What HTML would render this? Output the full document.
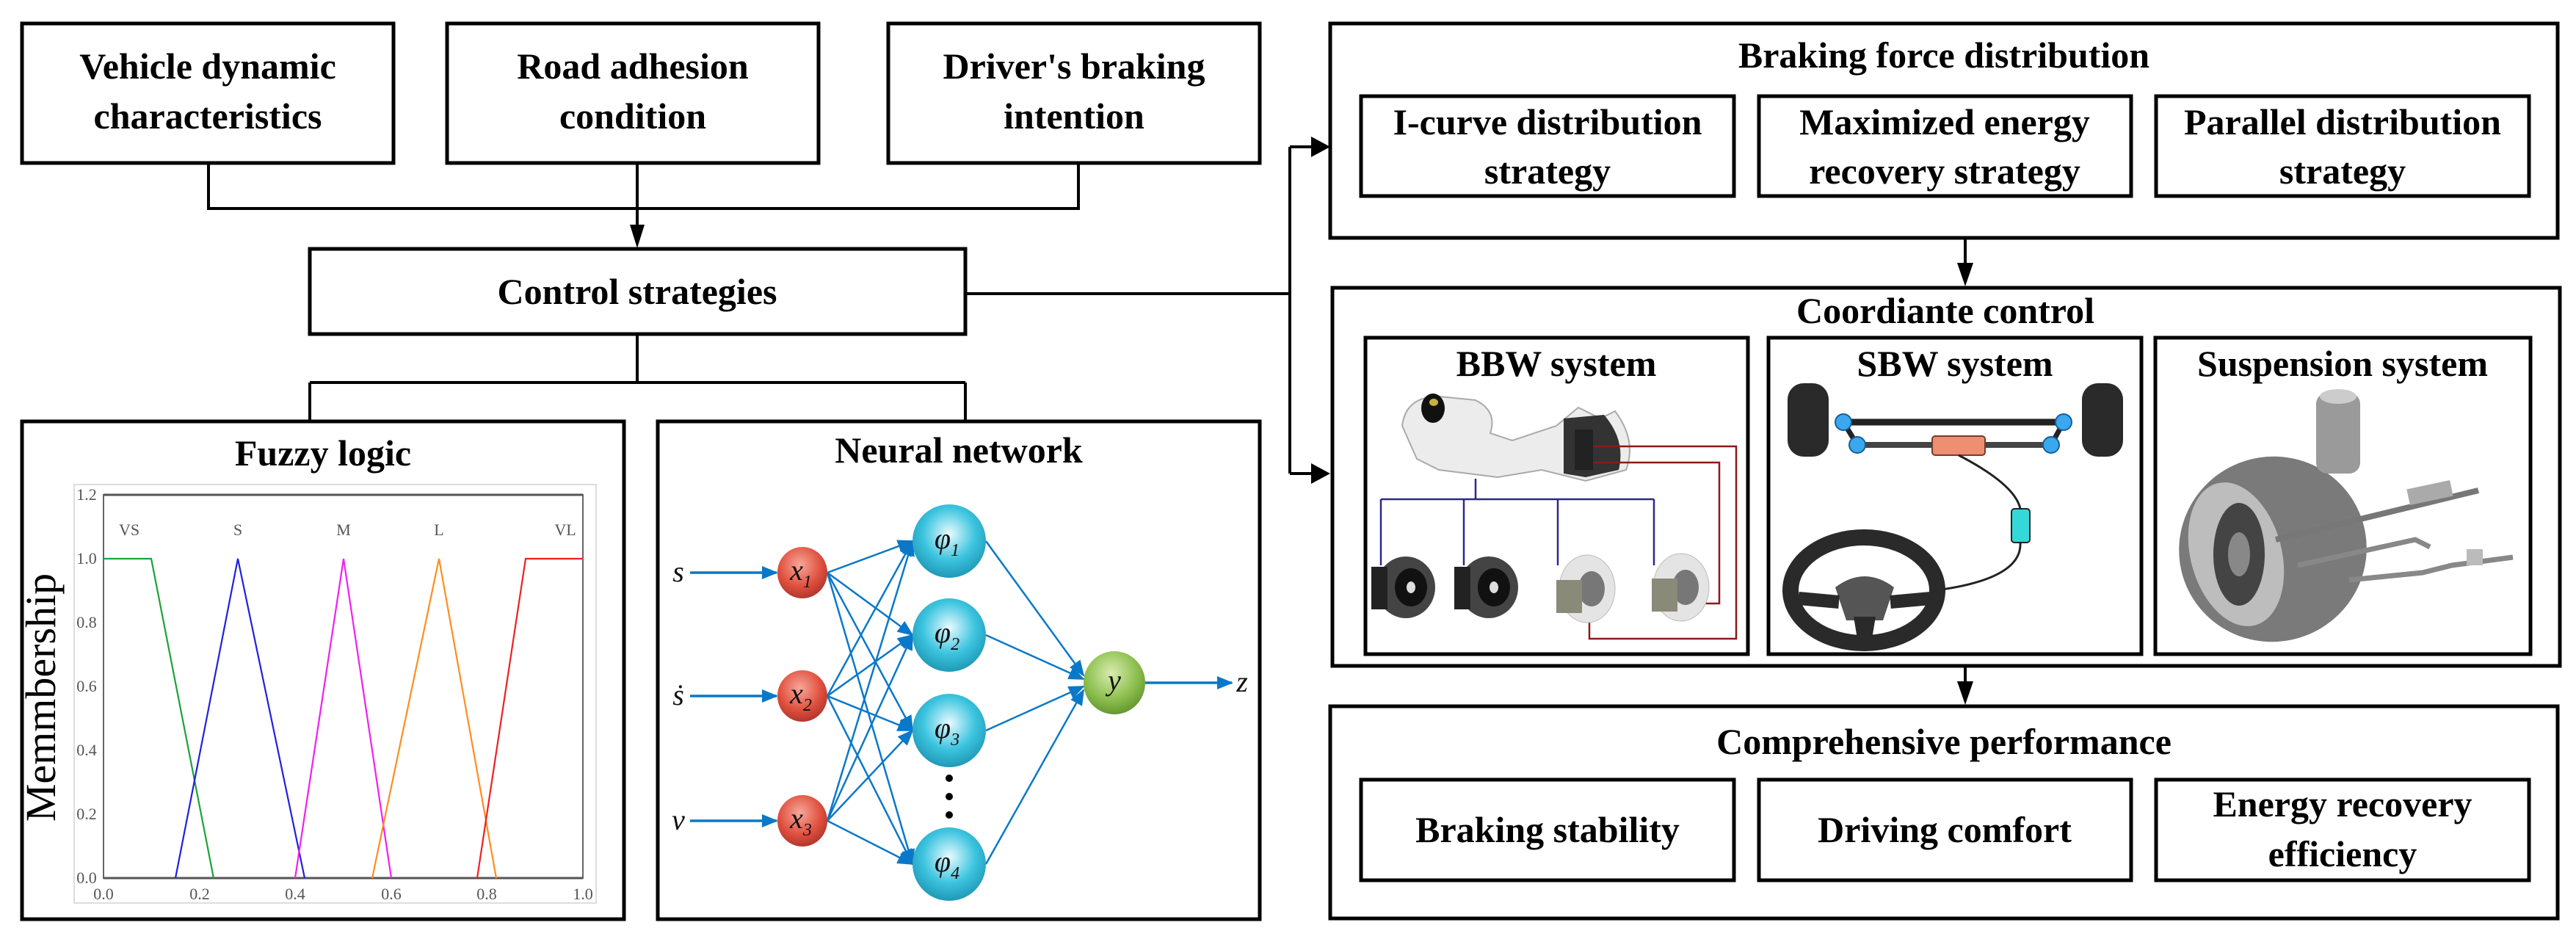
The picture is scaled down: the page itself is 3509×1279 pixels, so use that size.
<!DOCTYPE html>
<html><head><meta charset="utf-8"><style>
html,body{margin:0;padding:0;background:#fff}
svg{display:block}
text{font-family:"Liberation Serif","Times New Roman","DejaVu Serif",serif}
.t{font-weight:bold;font-size:50px;text-anchor:middle;fill:#000}
.b{fill:#fff;stroke:#000;stroke-width:5}
.l{stroke:#000;stroke-width:4;fill:none}
.ax{font-size:22px;fill:#555;text-anchor:middle}
.nn{font-style:italic;font-size:40px;text-anchor:middle;fill:#111}
</style></head><body>
<svg width="3509" height="1279" viewBox="0 0 3509 1279" xmlns="http://www.w3.org/2000/svg" font-family="Liberation Serif, serif">
<defs>
<marker id="blu" markerWidth="22" markerHeight="18" refX="20" refY="9" orient="auto" markerUnits="userSpaceOnUse"><path d="M0,0 L22,9 L0,18 z" fill="#0a78c8"/></marker>
<radialGradient id="gr" cx="0.45" cy="0.35" r="0.7"><stop offset="0" stop-color="#f7a89a"/><stop offset="0.6" stop-color="#e0503f"/><stop offset="1" stop-color="#a8322a"/></radialGradient>
<radialGradient id="gc" cx="0.5" cy="0.4" r="0.65"><stop offset="0" stop-color="#e8fbff"/><stop offset="0.55" stop-color="#3cc4df"/><stop offset="1" stop-color="#1a90ae"/></radialGradient>
<radialGradient id="gg" cx="0.45" cy="0.35" r="0.7"><stop offset="0" stop-color="#d9ecb0"/><stop offset="0.6" stop-color="#8cbf4e"/><stop offset="1" stop-color="#5e8f2c"/></radialGradient>
</defs>

<!-- Top input boxes -->
<rect class="b" x="30" y="32" width="506" height="190"/>
<text class="t" x="283" y="107">Vehicle dynamic</text>
<text class="t" x="283" y="175">characteristics</text>
<rect class="b" x="609" y="32" width="506" height="190"/>
<text class="t" x="862" y="107">Road adhesion</text>
<text class="t" x="862" y="175">condition</text>
<rect class="b" x="1210" y="32" width="506" height="190"/>
<text class="t" x="1463" y="107">Driver's braking</text>
<text class="t" x="1463" y="175">intention</text>

<path class="l" d="M284,222 V284 H1469 V222 M868,222 V310"/>
<path d="M858,306 L878,306 L868,338 z" fill="#000"/>

<rect class="b" x="422" y="339" width="893" height="116"/>
<text class="t" x="868" y="414">Control strategies</text>

<path class="l" d="M868,455 V521 M422,521 H1315 M422,521 V573 M1315,521 V573"/>
<path class="l" d="M1315,400 H1757 M1757,200 V645 M1757,200 H1790 M1757,645 H1790"/>
<path d="M1786,186 L1812,200 L1786,214 z" fill="#000"/>
<path d="M1786,631 L1812,645 L1786,659 z" fill="#000"/>

<!-- Fuzzy logic -->
<rect class="b" x="30" y="574" width="820" height="678"/>
<text class="t" x="440" y="634">Fuzzy logic</text>
<rect x="101" y="660" width="711" height="570" fill="none" stroke="#ddd" stroke-width="2"/>
<rect x="141" y="674" width="653" height="522" fill="none" stroke="#666" stroke-width="2"/>
<line x1="141" y1="674" x2="794" y2="674" stroke="#555" stroke-width="3"/>
<line x1="141" y1="1196" x2="794" y2="1196" stroke="#555" stroke-width="3"/>
<g class="ax">
<text x="141" y="1225">0.0</text><text x="272" y="1225">0.2</text><text x="402" y="1225">0.4</text><text x="533" y="1225">0.6</text><text x="663" y="1225">0.8</text><text x="794" y="1225">1.0</text>
<text x="118" y="1203">0.0</text><text x="118" y="1116">0.2</text><text x="118" y="1029">0.4</text><text x="118" y="942">0.6</text><text x="118" y="855">0.8</text><text x="118" y="768">1.0</text><text x="118" y="681">1.2</text>
<text x="176" y="729">VS</text><text x="324" y="729">S</text><text x="468" y="729">M</text><text x="598" y="729">L</text><text x="770" y="729">VL</text>
</g>
<text x="75" y="950" transform="rotate(-90 75 950)" style="font-size:58px;text-anchor:middle">Memmbership</text>
<g fill="none" stroke-width="2.2">
<polyline stroke="#1aa33a" points="141,761 206,761 291,1196"/>
<polyline stroke="#2020e0" points="239,1196 324,761 415,1196"/>
<polyline stroke="#f020f0" points="402,1196 468,761 533,1196"/>
<polyline stroke="#ff8c20" points="507,1196 598,761 676,1196"/>
<polyline stroke="#ee2020" points="650,1196 716,761 794,761"/>
</g>

<!-- Neural network -->
<rect class="b" x="896" y="574" width="820" height="678"/>
<text class="t" x="1306" y="630">Neural network</text>
<g stroke="#0a78c8" stroke-width="3.5" fill="none">
<line x1="940" y1="780" x2="1058" y2="780" marker-end="url(#blu)"/>
<line x1="940" y1="948" x2="1058" y2="948" marker-end="url(#blu)"/>
<line x1="940" y1="1118" x2="1058" y2="1118" marker-end="url(#blu)"/>
<line x1="1560" y1="930" x2="1678" y2="930" marker-end="url(#blu)"/>
</g>
<g stroke="#0a78c8" stroke-width="2.5" fill="none">
<line x1="1127" y1="780" x2="1243" y2="737" marker-end="url(#blu)"/>
<line x1="1127" y1="780" x2="1243" y2="865" marker-end="url(#blu)"/>
<line x1="1127" y1="780" x2="1243" y2="995" marker-end="url(#blu)"/>
<line x1="1127" y1="780" x2="1243" y2="1177" marker-end="url(#blu)"/>
<line x1="1127" y1="948" x2="1243" y2="737" marker-end="url(#blu)"/>
<line x1="1127" y1="948" x2="1243" y2="865" marker-end="url(#blu)"/>
<line x1="1127" y1="948" x2="1243" y2="995" marker-end="url(#blu)"/>
<line x1="1127" y1="948" x2="1243" y2="1177" marker-end="url(#blu)"/>
<line x1="1127" y1="1118" x2="1243" y2="737" marker-end="url(#blu)"/>
<line x1="1127" y1="1118" x2="1243" y2="865" marker-end="url(#blu)"/>
<line x1="1127" y1="1118" x2="1243" y2="995" marker-end="url(#blu)"/>
<line x1="1127" y1="1118" x2="1243" y2="1177" marker-end="url(#blu)"/>
<line x1="1343" y1="737" x2="1476" y2="920" marker-end="url(#blu)"/>
<line x1="1343" y1="865" x2="1476" y2="925" marker-end="url(#blu)"/>
<line x1="1343" y1="995" x2="1476" y2="935" marker-end="url(#blu)"/>
<line x1="1343" y1="1177" x2="1476" y2="940" marker-end="url(#blu)"/>
</g>
<ellipse cx="1093" cy="780" rx="34" ry="35" fill="url(#gr)"/>
<ellipse cx="1093" cy="948" rx="34" ry="35" fill="url(#gr)"/>
<ellipse cx="1093" cy="1118" rx="34" ry="35" fill="url(#gr)"/>
<ellipse cx="1293" cy="737" rx="50" ry="50" fill="url(#gc)"/>
<ellipse cx="1293" cy="865" rx="50" ry="50" fill="url(#gc)"/>
<ellipse cx="1293" cy="995" rx="50" ry="50" fill="url(#gc)"/>
<ellipse cx="1293" cy="1177" rx="50" ry="50" fill="url(#gc)"/>
<ellipse cx="1518" cy="930" rx="42" ry="43" fill="url(#gg)"/>
<circle cx="1293" cy="1060" r="5" fill="#000"/><circle cx="1293" cy="1085" r="5" fill="#000"/><circle cx="1293" cy="1110" r="5" fill="#000"/>
<g class="nn">
<text x="924" y="792">s</text><text x="924" y="960">ṡ</text><text x="924" y="1130">v</text><text x="1692" y="942">z</text>
<text x="1091" y="790">x<tspan font-size="24" dy="10">1</tspan></text>
<text x="1091" y="958">x<tspan font-size="24" dy="10">2</tspan></text>
<text x="1091" y="1128">x<tspan font-size="24" dy="10">3</tspan></text>
<text x="1290" y="747">φ<tspan font-size="24" dy="10">1</tspan></text>
<text x="1290" y="875">φ<tspan font-size="24" dy="10">2</tspan></text>
<text x="1290" y="1005">φ<tspan font-size="24" dy="10">3</tspan></text>
<text x="1290" y="1187">φ<tspan font-size="24" dy="10">4</tspan></text>
<text x="1518" y="940">y</text>
</g>

<!-- Braking force distribution -->
<rect class="b" x="1812" y="32" width="1672" height="292"/>
<text class="t" x="2648" y="92">Braking force distribution</text>
<rect class="b" x="1854" y="131" width="508" height="136"/>
<text class="t" x="2108" y="183">I-curve distribution</text>
<text class="t" x="2108" y="250">strategy</text>
<rect class="b" x="2396" y="131" width="507" height="136"/>
<text class="t" x="2649" y="183">Maximized energy</text>
<text class="t" x="2649" y="250">recovery strategy</text>
<rect class="b" x="2937" y="131" width="508" height="136"/>
<text class="t" x="3191" y="183">Parallel distribution</text>
<text class="t" x="3191" y="250">strategy</text>

<line class="l" x1="2677" y1="324" x2="2677" y2="370"/>
<path d="M2666,358 L2688,358 L2677,390 z" fill="#000"/>

<!-- Coordinate control -->
<rect class="b" x="1815" y="392" width="1672" height="515"/>
<text class="t" x="2650" y="440">Coordiante control</text>
<rect class="b" x="1860" y="460" width="521" height="431"/>
<text class="t" x="2120" y="512">BBW system</text>
<rect class="b" x="2409" y="460" width="508" height="431"/>
<text class="t" x="2663" y="512">SBW system</text>
<rect class="b" x="2936" y="460" width="511" height="431"/>
<text class="t" x="3191" y="512">Suspension system</text>

<!-- BBW drawing -->
<g>
<path d="M1910,580 Q1915,540 1960,540 L2010,545 Q2040,560 2030,590 L2060,600 L2120,580 L2150,555 L2180,570 L2200,560 Q2230,600 2215,640 L2160,655 L2100,640 L2040,650 L1960,640 L1930,625 Z" fill="#ececec" stroke="#aaa" stroke-width="2"/>
<ellipse cx="1952" cy="556" rx="16" ry="20" fill="#111"/>
<ellipse cx="1953" cy="548" rx="6" ry="5" fill="#c8b040"/>
<path d="M2130,570 L2185,565 Q2215,600 2205,640 L2160,650 L2130,645 Z" fill="#333"/>
<rect x="2145" y="585" width="25" height="55" fill="#222"/>
</g>
<g stroke="#2a2a8a" stroke-width="2.5" fill="none">
<path d="M2010,652 V680 M1881,680 H2253 M1881,680 V770 M1994,680 V770 M2122,680 V770 M2253,680 V770"/>
</g>
<g stroke="#8a1a1a" stroke-width="2.5" fill="none">
<path d="M2170,608 H2365 V870 H2165 V840 M2170,630 H2342 V822 H2300"/>
</g>
<g>
<ellipse cx="1915" cy="800" rx="40" ry="42" fill="#444"/><ellipse cx="1922" cy="800" rx="22" ry="26" fill="#111"/><ellipse cx="1922" cy="800" rx="6" ry="8" fill="#ddd"/>
<rect x="1868" y="772" width="22" height="58" fill="#222"/>
<ellipse cx="2028" cy="800" rx="40" ry="42" fill="#444"/><ellipse cx="2035" cy="800" rx="22" ry="26" fill="#111"/><ellipse cx="2035" cy="800" rx="6" ry="8" fill="#ddd"/>
<rect x="1981" y="772" width="22" height="58" fill="#222"/>
<ellipse cx="2162" cy="802" rx="38" ry="46" fill="#e4e4e4" stroke="#bbb"/><ellipse cx="2168" cy="802" rx="18" ry="24" fill="#777"/>
<rect x="2120" y="790" width="35" height="45" fill="#8a8a7a"/>
<ellipse cx="2290" cy="800" rx="38" ry="46" fill="#e4e4e4" stroke="#bbb"/><ellipse cx="2296" cy="800" rx="18" ry="24" fill="#777"/>
<rect x="2250" y="788" width="35" height="45" fill="#8a8a7a"/>
</g>

<!-- SBW drawing -->
<g>
<rect x="2435" y="522" width="56" height="100" rx="22" fill="#2a2a2a"/>
<rect x="2836" y="522" width="56" height="100" rx="22" fill="#2a2a2a"/>
<line x1="2511" y1="575" x2="2811" y2="575" stroke="#222" stroke-width="9"/>
<line x1="2530" y1="606" x2="2794" y2="606" stroke="#444" stroke-width="8"/>
<line x1="2511" y1="575" x2="2530" y2="606" stroke="#222" stroke-width="7"/>
<line x1="2811" y1="575" x2="2794" y2="606" stroke="#222" stroke-width="7"/>
<circle cx="2511" cy="575" r="11" fill="#3aa8ee" stroke="#1a5c9a" stroke-width="2"/>
<circle cx="2811" cy="575" r="11" fill="#3aa8ee" stroke="#1a5c9a" stroke-width="2"/>
<circle cx="2530" cy="606" r="11" fill="#3aa8ee" stroke="#1a5c9a" stroke-width="2"/>
<circle cx="2794" cy="606" r="11" fill="#3aa8ee" stroke="#1a5c9a" stroke-width="2"/>
<rect x="2632" y="594" width="72" height="26" rx="4" fill="#ee8f72" stroke="#7a3a2a" stroke-width="2"/>
<path d="M2668,620 Q2745,660 2752,693 M2752,739 Q2755,790 2630,805" fill="none" stroke="#222" stroke-width="3"/>
<rect x="2740" y="693" width="25" height="46" rx="4" fill="#34d8d8" stroke="#222" stroke-width="2"/>
<ellipse cx="2539" cy="804" rx="100" ry="72" fill="none" stroke="#2a2a2a" stroke-width="22"/>
<path d="M2500,800 Q2540,770 2580,800 L2565,845 L2515,845 Z" fill="#555"/>
<path d="M2450,815 L2505,820 M2630,815 L2575,820" stroke="#2a2a2a" stroke-width="18"/>
<path d="M2525,840 L2530,870 L2550,870 L2555,840" fill="#2a2a2a"/>
</g>

<!-- Suspension drawing -->
<g>
<ellipse cx="3096" cy="748" rx="128" ry="126" transform="rotate(-20 3096 748)" fill="#7a7a7a"/>
<ellipse cx="3046" cy="755" rx="62" ry="100" transform="rotate(-15 3046 755)" fill="#bdbdbd"/>
<ellipse cx="3050" cy="755" rx="35" ry="70" fill="#444"/>
<ellipse cx="3050" cy="755" rx="15" ry="30" fill="#888"/>
<rect x="3155" y="535" width="60" height="110" rx="15" fill="#9a9a9a"/>
<ellipse cx="3185" cy="540" rx="25" ry="10" fill="#ccc"/>
<path d="M3100,735 L3376,668" stroke="#777" stroke-width="8"/>
<rect x="3280" y="660" width="60" height="22" fill="#aaa" transform="rotate(-12 3310 671)"/>
<path d="M3130,770 L3290,735 L3310,745 M3200,790 L3300,780 L3340,770 L3423,759" stroke="#888" stroke-width="7" fill="none"/>
<rect x="3360" y="748" width="22" height="22" fill="#bbb"/>
</g>

<line class="l" x1="2677" y1="907" x2="2677" y2="940"/>
<path d="M2666,928 L2688,928 L2677,960 z" fill="#000"/>

<!-- Comprehensive performance -->
<rect class="b" x="1812" y="962" width="1672" height="289"/>
<text class="t" x="2648" y="1027">Comprehensive performance</text>
<rect class="b" x="1854" y="1062" width="508" height="137"/>
<text class="t" x="2108" y="1147">Braking stability</text>
<rect class="b" x="2396" y="1062" width="507" height="137"/>
<text class="t" x="2649" y="1147">Driving comfort</text>
<rect class="b" x="2937" y="1062" width="508" height="137"/>
<text class="t" x="3191" y="1112">Energy recovery</text>
<text class="t" x="3191" y="1180">efficiency</text>
</svg>
</body></html>
